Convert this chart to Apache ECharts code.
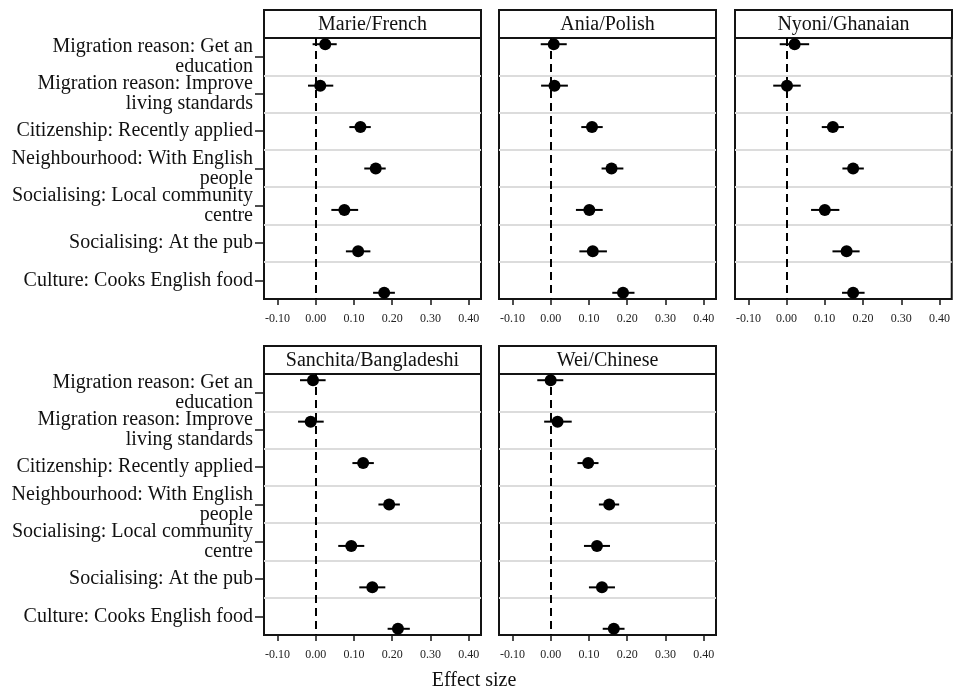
<!DOCTYPE html>
<html>
<head>
<meta charset="utf-8">
<script src="https://cdn.jsdelivr.net/npm/echarts@6/dist/echarts.min.js"></script>
<style>
html,body{margin:0;padding:0;background:#fff;}
#chart{width:953px;height:688px;}
</style>
</head>
<body>
<div id="chart"></div>
<script>
// ---- data ----
const categories = [
  'Migration reason: Get an\neducation',
  'Migration reason: Improve\nliving standards',
  'Citizenship: Recently applied',
  'Neighbourhood: With English\npeople',
  'Socialising: Local community\ncentre',
  'Socialising: At the pub',
  'Culture: Cooks English food'
];
const panelTitles = ['Marie/French', 'Ania/Polish', 'Nyoni/Ghanaian', 'Sanchita/Bangladeshi', 'Wei/Chinese'];
const xTickValues = [-0.1, 0, 0.1, 0.2, 0.3, 0.4];

const marieEst = [0.025, 0.012, 0.117, 0.157, 0.075, 0.111, 0.179];
const marieLo  = [-0.008, -0.020, 0.088, 0.127, 0.041, 0.079, 0.150];
const marieHi  = [0.055, 0.046, 0.144, 0.183, 0.111, 0.143, 0.207];

const aniaEst = [0.008, 0.010, 0.108, 0.159, 0.101, 0.110, 0.189];
const aniaLo  = [-0.026, -0.025, 0.080, 0.133, 0.066, 0.075, 0.161];
const aniaHi  = [0.042, 0.045, 0.136, 0.190, 0.136, 0.147, 0.219];

const nyoniEst = [0.021, 0.001, 0.121, 0.174, 0.100, 0.157, 0.174];
const nyoniLo  = [-0.018, -0.035, 0.092, 0.146, 0.064, 0.120, 0.145];
const nyoniHi  = [0.059, 0.037, 0.150, 0.202, 0.138, 0.191, 0.204];

const sanchitaEst = [-0.007, -0.013, 0.124, 0.192, 0.093, 0.148, 0.215];
const sanchitaLo  = [-0.041, -0.046, 0.096, 0.164, 0.059, 0.114, 0.188];
const sanchitaHi  = [0.026, 0.021, 0.152, 0.220, 0.127, 0.182, 0.246];

const weiEst = [0.000, 0.018, 0.098, 0.153, 0.121, 0.134, 0.165];
const weiLo  = [-0.035, -0.017, 0.070, 0.126, 0.087, 0.100, 0.136];
const weiHi  = [0.033, 0.055, 0.125, 0.179, 0.155, 0.168, 0.193];

const panelEst = [marieEst, aniaEst, nyoniEst, sanchitaEst, weiEst];
const panelLo  = [marieLo, aniaLo, nyoniLo, sanchitaLo, weiLo];
const panelHi  = [marieHi, aniaHi, nyoniHi, sanchitaHi, weiHi];

// ---- layout ----
const colLeft = [264, 499, 735];
const rowTop = [38, 374];
const plotW = 217, plotH = 261, headH = 28;
const FONT = 'Liberation Serif';
const INK = '#141414';

const grids = [], xAxes = [], yAxes = [], series = [], graphics = [];
panelTitles.forEach((title, i) => {
  const col = i % 3, row = Math.floor(i / 3);
  const left = colLeft[col], top = rowTop[row];
  grids.push({left: left, top: top, width: plotW, height: plotH, show: true,
    borderColor: INK, borderWidth: 2, backgroundColor: 'transparent'});
  xAxes.push({
    type: 'value', gridIndex: i, min: -0.135, max: 0.432, position: 'bottom',
    splitLine: {show: false}, axisLine: {show: false, onZero: false},
    axisTick: {show: true, length: 6, customValues: xTickValues, lineStyle: {color: INK, width: 1.5}},
    axisLabel: {customValues: xTickValues, formatter: v => v.toFixed(2), fontSize: 12,
      color: '#222', margin: 14, fontFamily: FONT}
  });
  yAxes.push({
    type: 'category', gridIndex: i, data: categories, inverse: true, position: 'left',
    axisLine: {show: false, onZero: false},
    axisTick: {show: col === 0, alignWithLabel: true, interval: 0, length: 9, lineStyle: {color: INK, width: 1.5}},
    axisLabel: {show: col === 0, interval: 0, fontSize: 20, lineHeight: 20, color: '#111',
      margin: 11, fontFamily: FONT, align: 'right', padding: [4, 0, 0, 0],
      backgroundColor: 'rgba(255,255,255,0)'},
    splitLine: {show: true, interval: 0, showMinLine: false, showMaxLine: false,
      lineStyle: {color: '#dcdcdc', width: 2}}
  });
  yAxes.push({type: 'value', gridIndex: i, min: -0.15, max: 6.15, inverse: true, show: false,
    axisLine: {onZero: false}});

  const est = panelEst[i], lo = panelLo[i], hi = panelHi[i];
  series.push({
    type: 'custom', xAxisIndex: i, yAxisIndex: 2 * i + 1, z: 2,
    data: est.map((v, k) => [lo[k], hi[k], k]),
    encode: {x: [0, 1], y: 2},
    renderItem: (params, api) => {
      const a = api.coord([api.value(0), api.value(2)]);
      const b = api.coord([api.value(1), api.value(2)]);
      return {type: 'line', shape: {x1: a[0], y1: a[1], x2: b[0], y2: b[1]},
        style: {stroke: '#000', lineWidth: 2}};
    },
    markLine: {silent: true, symbol: ['none', 'none'], label: {show: false},
      lineStyle: {color: '#000', type: [8, 5], width: 2}, data: [{xAxis: 0}]}
  });
  series.push({
    type: 'scatter', xAxisIndex: i, yAxisIndex: 2 * i + 1, z: 5,
    data: est.map((v, k) => [v, k]), symbolSize: 12,
    itemStyle: {color: '#000', opacity: 1}
  });
  graphics.push({
    type: 'group', children: [
      {type: 'rect', shape: {x: left, y: top - headH, width: plotW, height: headH},
        style: {fill: '#fff', stroke: INK, lineWidth: 2}},
      {type: 'text', style: {text: title, x: left + plotW / 2, y: top - headH / 2 + 1,
        align: 'center', verticalAlign: 'middle', font: '20px "' + FONT + '"', fill: '#111'}}
    ]
  });
});
graphics.push({type: 'text', style: {text: 'Effect size', x: 474, y: 681, align: 'center',
  verticalAlign: 'middle', font: '20px "' + FONT + '"', fill: '#111'}});

const chart = echarts.init(document.getElementById('chart'), null, {renderer: 'canvas'});
chart.setOption({
  animation: false,
  backgroundColor: '#fff',
  textStyle: {fontFamily: FONT},
  grid: grids, xAxis: xAxes, yAxis: yAxes, series: series, graphic: graphics
});
</script>
</body>
</html>
